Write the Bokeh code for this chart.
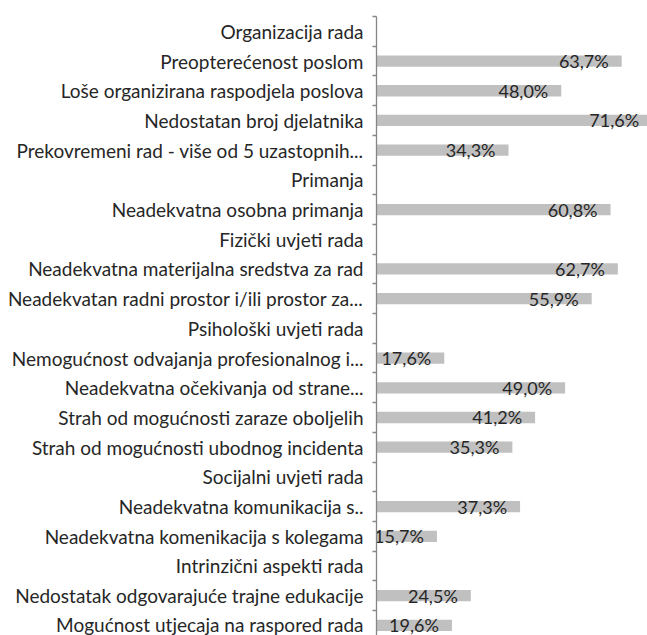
from bokeh.plotting import figure
from bokeh.models import Range1d, FixedTicker, ColumnDataSource
from bokeh.core.properties import value
from bokeh.embed import file_html
from bokeh.resources import INLINE

categories = [
    "Organizacija rada",
    "Preopterećenost poslom",
    "Loše organizirana raspodjela poslova",
    "Nedostatan broj djelatnika",
    "Prekovremeni rad - više od 5 uzastopnih...",
    "Primanja",
    "Neadekvatna osobna primanja",
    "Fizički uvjeti rada",
    "Neadekvatna materijalna sredstva za rad",
    "Neadekvatan radni prostor i/ili prostor za...",
    "Psihološki uvjeti rada",
    "Nemogućnost odvajanja profesionalnog i...",
    "Neadekvatna očekivanja od strane...",
    "Strah od mogućnosti zaraze oboljelih",
    "Strah od mogućnosti ubodnog incidenta",
    "Socijalni uvjeti rada",
    "Neadekvatna komunikacija s..",
    "Neadekvatna komenikacija s kolegama",
    "Intrinzični aspekti rada",
    "Nedostatak odgovarajuće trajne edukacije",
    "Mogućnost utjecaja na raspored rada",
]
values = [None, 63.7, 48.0, 71.6, 34.3, None, 60.8, None, 62.7, 55.9,
          None, 17.6, 49.0, 41.2, 35.3, None, 37.3, 15.7, None, 24.5, 19.6]

n = len(categories)
ys, vs, ts = [], [], []
for i, v in enumerate(values):
    if v is not None:
        ys.append(i)
        vs.append(v)
        ts.append(f"{v:.1f}".replace(".", ",") + "%")
src = ColumnDataSource(dict(y=ys, v=vs, t=ts))

FONT = "Lato"
TXT = "#262626"

p = figure(width=647, height=635, output_backend="svg", toolbar_location=None,
           x_range=Range1d(0, 70.4), y_range=Range1d(n - 0.66, -0.5),
           x_axis_location=None)
p.min_border_left = 376
p.min_border_right = 0
p.min_border_top = 16
p.min_border_bottom = 0
p.outline_line_color = None
p.xgrid.visible = False
p.ygrid.visible = False
p.background_fill_color = "white"
p.border_fill_color = "white"

p.hbar(y="y", right="v", left=0, height=0.38, fill_color="#c0c0c0",
       line_color=None, source=src)
p.text(x="v", y="y", text="t", source=src, text_align="right",
       text_baseline="middle", x_offset=-13, text_font=value(FONT),
       text_font_size="18px", text_color=TXT)

ax = p.yaxis[0]
ax.ticker = FixedTicker(ticks=list(range(n)),
                        minor_ticks=[i - 0.5 for i in range(n + 1)])
ax.major_label_overrides = {i: c for i, c in enumerate(categories)}
ax.axis_line_color = "#868686"
ax.axis_line_width = 1.3
ax.major_tick_in = 0
ax.major_tick_out = 0
ax.minor_tick_in = 0
ax.minor_tick_out = 4
ax.minor_tick_line_color = "#868686"
ax.minor_tick_line_width = 1.3
ax.major_label_standoff = 9
ax.major_label_text_font = FONT
ax.major_label_text_font_size = "19px"
ax.major_label_text_color = TXT

open("out.html", "w").write(file_html(p, INLINE))
